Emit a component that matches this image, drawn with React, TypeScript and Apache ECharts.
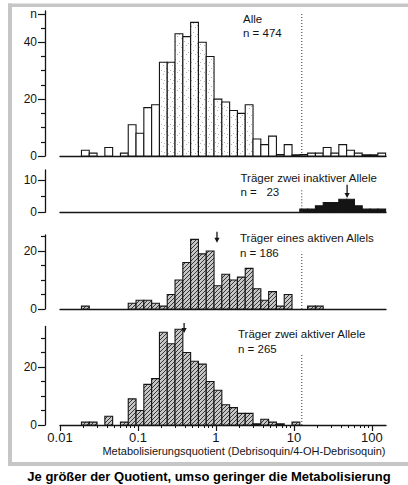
import React, { useEffect, useRef } from "react";
import * as echarts from "echarts";

// ---------- data ----------
// x axis: log10 of the metabolic ratio; bins of 0.1 log units
const BIN_START_LOG = -2.025;
const BIN_WIDTH_LOG = 0.1;

// counts per bin, bin k spans [BIN_START_LOG + k*0.1, +0.1]
const COUNTS_ALLE = [
  0, 0, 0, 2, 1, 0, 3, 0, 1, 11,
  8, 17, 18, 33, 33, 43, 42, 47, 40, 35,
  20, 19, 16, 15, 18, 6, 4, 7, 0.5, 4,
  0.4, 0.5, 1, 1, 3, 1, 4, 2, 1, 0.4,
  0.4, 1,
];
const COUNTS_ZWEI_INAKTIV = [
  0, 0, 0, 0, 0, 0, 0, 0, 0, 0,
  0, 0, 0, 0, 0, 0, 0, 0, 0, 0,
  0, 0, 0, 0, 0, 0, 0, 0, 0, 0,
  0, 1, 1, 2, 3, 3, 4, 4, 2, 1,
  1, 1,
];
const COUNTS_EIN_AKTIV = [
  0, 0, 0, 1, 0, 0, 0, 0, 0, 2,
  3, 3, 2, 1, 5, 10, 16, 24, 19, 20,
  8, 12, 10, 11, 14, 7, 3, 6, 1, 5,
  0, 0, 1, 1, 0, 0, 0, 0, 0, 0,
  0, 0,
];
const COUNTS_ZWEI_AKTIV = [
  0, 0, 0, 1, 1, 0, 3, 0, 1, 9,
  5, 14, 16, 32, 28, 33, 25, 22, 21, 15,
  12, 7, 6, 4, 4, 0.4, 2, 1, 0.4, 0,
  1, 0, 0, 0, 0, 0, 0, 0, 0, 0,
  0, 0,
];
// stippled bins of the "Alle" histogram
const ALLE_STIPPLED_FROM = 13;
const ALLE_STIPPLED_TO = 24;

const PANEL_TITLES = [
  "Alle",
  "Träger zwei inaktiver Allele",
  "Träger eines aktiven Allels",
  "Träger zwei aktiver Allele",
];
const PANEL_N = ["n = 474", "n =\u00a0\u00a0\u00a023", "n = 186", "n = 265"];

// cut-off (dotted line) and its top per panel
const CUTOFF = 12.6;
const CUTOFF_TOPS = [50, 7.1, 19.7, 24.5];

// median arrows for panels 2-4: x (ratio), tip and tail (counts)
const ARROW_X = [48, 1.03, 0.39];
const ARROW_TIP = [4.4, 22.8, 31.7];
const ARROW_TAIL = [8.5, 26.6, 35.2];

// axes
const X_MIN_LOG = -2;
const X_MAX_LOG = 2.18;
const X_MAJOR_LOG = [-2, -1, 0, 1, 2];
const X_LABELS = ["0.01", "0.1", "1", "10", "100"];
const DECADES = [-2, -1, 0, 1, 2];
const MINOR_MULTIPLIERS = [2, 3, 4, 5, 6, 7, 8, 9];

const Y_MAX = [51, 13, 25.5, 34];
const Y_MAJOR = [[0, 20, 40, 50], [0, 10], [0, 20], [0, 20]];
const Y_LABELS = [["0", "20", "40", "n"], ["0", "10"], ["0", "20"], ["0", "20"]];
const Y_MINOR = [[5, 10, 15, 25, 30, 35, 45], [5], [5, 10, 15, 25], [5, 10, 15, 25, 30]];

const X_TITLE = "Metabolisierungsquotient (Debrisoquin/4-OH-Debrisoquin)";
const CAPTION = "Je größer der Quotient, umso geringer die Metabolisierung";

// ---------- layout ----------
const FONT = '"Liberation Sans", Arial, Helvetica, sans-serif';
const INK = "#141414";
const GRID_LEFT = 60;
const GRID_WIDTH = 326;
const GRIDS = [
  { top: 11, height: 145 },
  { top: 170, height: 42.3 },
  { top: 235, height: 74 },
  { top: 326.4, height: 98.6 },
];
const TITLE_POS = [
  [243, 19, 33],
  [240.5, 178, 192],
  [240, 238, 253],
  [238, 334, 349],
];

function makeTile(size: number, bg: string, ink: string, pixels: number[][]) {
  const c = document.createElement("canvas");
  c.width = size;
  c.height = size;
  const ctx = c.getContext("2d")!;
  ctx.fillStyle = bg;
  ctx.fillRect(0, 0, size, size);
  ctx.fillStyle = ink;
  pixels.forEach(([x, y]) => ctx.fillRect(x, y, 1, 1));
  return { image: c, repeat: "repeat", imageWidth: size, imageHeight: size };
}

export default function App() {
  const ref = useRef<HTMLDivElement>(null);

  useEffect(() => {
    document.body.style.margin = "0";
    const chart = echarts.init(ref.current!, undefined, {
      renderer: "svg",
      width: 408,
      height: 485,
    });

    const stipple = makeTile(9, "#ffffff", "#b4b4b4", [[1, 2], [6, 0], [4, 5], [8, 7], [2, 8]]);
    const hatch = makeTile(4, "#c6c6c6", "#363636", [[3, 0], [2, 1], [1, 2], [0, 3]]);

    const minorX: number[] = [];
    DECADES.forEach((d) =>
      MINOR_MULTIPLIERS.forEach((m) => {
        const v = d + Math.log10(m);
        if (v <= X_MAX_LOG) minorX.push(v);
      })
    );

    const xAxes: any[] = [];
    GRIDS.forEach((_, i) => {
      const isLast = i === GRIDS.length - 1;
      xAxes.push({
        type: "value",
        gridIndex: i,
        min: X_MIN_LOG,
        max: X_MAX_LOG,
        position: "bottom",
        axisLine: { show: true, onZero: false, lineStyle: { color: INK, width: 1.3 } },
        axisTick: isLast
          ? { show: true, inside: false, length: 6, customValues: X_MAJOR_LOG, lineStyle: { color: INK, width: 1.2 } }
          : { show: false },
        axisLabel: isLast
          ? {
              show: true,
              customValues: X_MAJOR_LOG,
              formatter: (v: number) => {
                const idx = X_MAJOR_LOG.findIndex((t) => Math.abs(t - v) < 1e-6);
                return idx >= 0 ? X_LABELS[idx] : "";
              },
              fontSize: 13,
              color: INK,
              margin: 6,
              fontFamily: FONT,
            }
          : { show: false },
        splitLine: { show: false },
      });
    });
    // minor ticks of the bottom axis
    xAxes.push({
      type: "value",
      gridIndex: 3,
      min: X_MIN_LOG,
      max: X_MAX_LOG,
      position: "bottom",
      axisLine: { show: false, onZero: false },
      axisTick: { show: true, inside: false, length: 3, customValues: minorX, lineStyle: { color: INK, width: 1 } },
      axisLabel: { show: false },
      splitLine: { show: false },
    });

    const yAxes: any[] = [];
    GRIDS.forEach((_, i) => {
      yAxes.push({
        type: "value",
        gridIndex: i,
        min: 0,
        max: Y_MAX[i],
        position: "left",
        offset: 15,
        axisLine: { show: true, onZero: false, lineStyle: { color: INK, width: 1.3 } },
        axisTick: { show: true, length: 7, customValues: Y_MAJOR[i], lineStyle: { color: INK, width: 1.2 } },
        axisLabel: {
          show: true,
          customValues: Y_MAJOR[i],
          formatter: (v: number) => {
            const idx = Y_MAJOR[i].indexOf(v);
            return idx >= 0 ? Y_LABELS[i][idx] : "";
          },
          fontSize: 12,
          color: INK,
          margin: 8,
          fontFamily: FONT,
        },
        splitLine: { show: false },
      });
      yAxes.push({
        type: "value",
        gridIndex: i,
        min: 0,
        max: Y_MAX[i],
        position: "left",
        offset: 15,
        axisLine: { show: false, onZero: false },
        axisTick: { show: true, length: 4, customValues: Y_MINOR[i], lineStyle: { color: INK, width: 1.2 } },
        axisLabel: { show: false },
        splitLine: { show: false },
      });
    });

    const histSeries = (counts: number[], panel: number, fillFor: (k: number) => any) => ({
      type: "custom",
      xAxisIndex: panel,
      yAxisIndex: panel * 2,
      clip: false,
      encode: { x: [0, 1], y: 2 },
      data: counts
        .map((c, k) => [BIN_START_LOG + k * BIN_WIDTH_LOG, BIN_START_LOG + (k + 1) * BIN_WIDTH_LOG, c, k])
        .filter((d) => d[2] > 0),
      renderItem: (_p: any, api: any) => {
        const p0 = api.coord([api.value(0), api.value(2)]);
        const p1 = api.coord([api.value(1), 0]);
        return {
          type: "rect",
          shape: { x: p0[0], y: p0[1], width: p1[0] - p0[0], height: p1[1] - p0[1] },
          style: { fill: fillFor(api.value(3)), stroke: INK, lineWidth: 1.1 },
        };
      },
    });

    const cutoffSeries = (panel: number) => ({
      type: "custom",
      xAxisIndex: panel,
      yAxisIndex: panel * 2,
      clip: false,
      data: [[Math.log10(CUTOFF), CUTOFF_TOPS[panel]]],
      renderItem: (_p: any, api: any) => {
        const a = api.coord([api.value(0), 0]);
        const b = api.coord([api.value(0), api.value(1)]);
        return {
          type: "line",
          shape: { x1: a[0], y1: a[1], x2: b[0], y2: b[1] },
          style: { stroke: "#333", lineWidth: 1, lineDash: [1, 2] },
        };
      },
    });

    const arrowSeries = (panel: number) => ({
      type: "custom",
      xAxisIndex: panel,
      yAxisIndex: panel * 2,
      clip: false,
      data: [[Math.log10(ARROW_X[panel - 1]), ARROW_TIP[panel - 1], ARROW_TAIL[panel - 1]]],
      renderItem: (_p: any, api: any) => {
        const tip = api.coord([api.value(0), api.value(1)]);
        const tail = api.coord([api.value(0), api.value(2)]);
        return {
          type: "group",
          children: [
            {
              type: "line",
              shape: { x1: tail[0], y1: tail[1], x2: tip[0], y2: tip[1] - 3 },
              style: { stroke: INK, lineWidth: 1.3 },
            },
            {
              type: "polygon",
              shape: { points: [[tip[0], tip[1]], [tip[0] - 2.6, tip[1] - 5], [tip[0] + 2.6, tip[1] - 5]] },
              style: { fill: INK },
            },
          ],
        };
      },
    });

    const texts: any[] = [];
    PANEL_TITLES.forEach((t, i) => {
      const [x, y1, y2] = TITLE_POS[i];
      texts.push({
        type: "text",
        x,
        y: y1,
        style: { text: t, fill: INK, fontSize: 11.5, fontFamily: FONT, textAlign: "left", textVerticalAlign: "middle", align: "left", verticalAlign: "middle" },
      });
      texts.push({
        type: "text",
        x,
        y: y2,
        style: { text: PANEL_N[i], fill: INK, fontSize: 11.5, fontFamily: FONT, textAlign: "left", textVerticalAlign: "middle", align: "left", verticalAlign: "middle" },
      });
    });
    texts.push({
      type: "text",
      x: 244,
      y: 451,
      style: { text: X_TITLE, fill: INK, fontSize: 11, fontFamily: FONT, textAlign: "center", textVerticalAlign: "middle", align: "center", verticalAlign: "middle" },
    });
    texts.push({
      type: "text",
      x: 209,
      y: 476,
      style: { text: CAPTION, fill: "#000", fontSize: 13, fontWeight: "bold", fontFamily: FONT, textAlign: "center", textVerticalAlign: "middle", align: "center", verticalAlign: "middle" },
    });

    const frame = [
      { type: "rect", shape: { x: 8, y: 3.5, width: 400, height: 3.5 }, style: { fill: "#c6c6c6" }, z: -1 },
      { type: "rect", shape: { x: 8, y: 3.5, width: 4, height: 462 }, style: { fill: "#c6c6c6" }, z: -1 },
      { type: "rect", shape: { x: 8, y: 462, width: 400, height: 4 }, style: { fill: "#c6c6c6" }, z: -1 },
    ];

    const option: any = {
      animation: false,
      backgroundColor: "#ffffff",
      textStyle: { fontFamily: FONT },
      grid: GRIDS.map((g) => ({
        left: GRID_LEFT,
        width: GRID_WIDTH,
        top: g.top,
        height: g.height,
        containLabel: false,
        outerBoundsMode: "none",
      })),
      xAxis: xAxes,
      yAxis: yAxes,
      series: [
        histSeries(COUNTS_ALLE, 0, (k) => (k >= ALLE_STIPPLED_FROM && k <= ALLE_STIPPLED_TO ? stipple : "#ffffff")),
        histSeries(COUNTS_ZWEI_INAKTIV, 1, () => INK),
        histSeries(COUNTS_EIN_AKTIV, 2, () => hatch),
        histSeries(COUNTS_ZWEI_AKTIV, 3, () => hatch),
        cutoffSeries(0),
        cutoffSeries(1),
        cutoffSeries(2),
        cutoffSeries(3),
        arrowSeries(1),
        arrowSeries(2),
        arrowSeries(3),
      ],
      graphic: [...frame, ...texts],
    };

    chart.setOption(option);
    return () => chart.dispose();
  }, []);

  return (
    <div
      ref={ref}
      style={{ position: "absolute", left: 0, top: 0, width: 408, height: 485, background: "#fff" }}
    />
  );
}
